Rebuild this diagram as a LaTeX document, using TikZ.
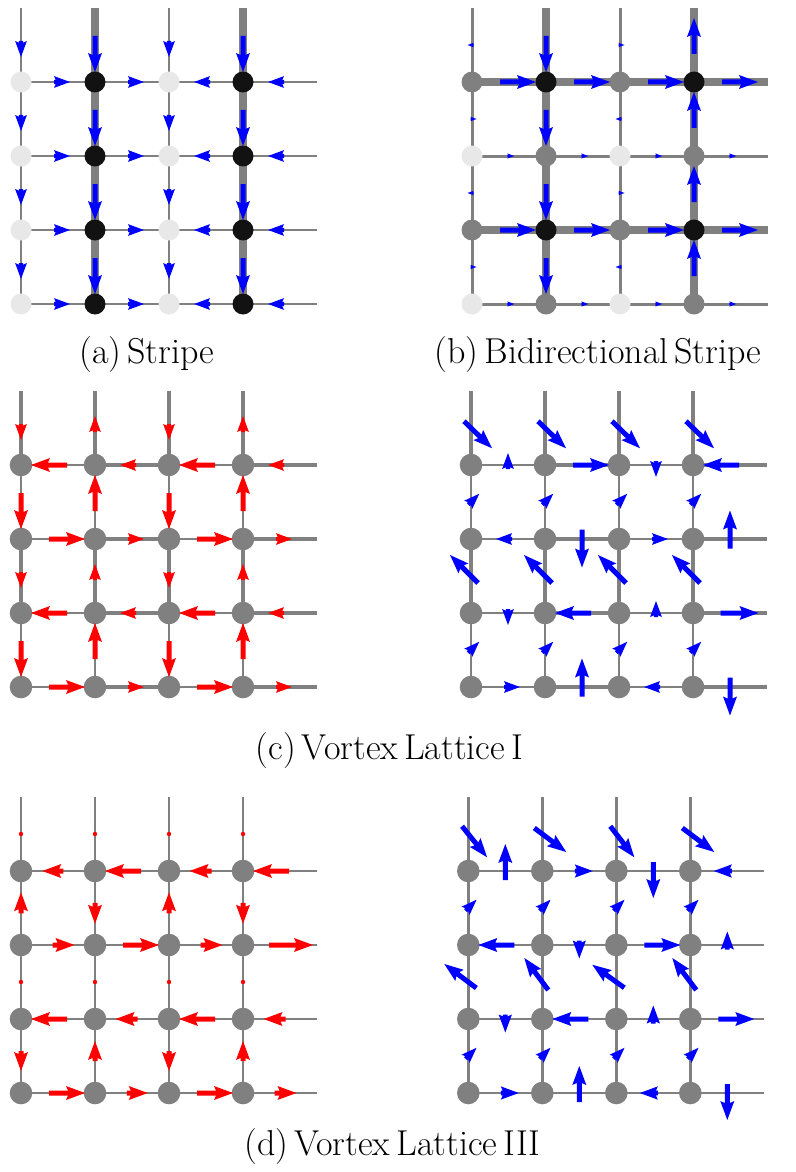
\documentclass[tikz,border=0pt]{standalone}
\usetikzlibrary{calc}
\definecolor{lgray}{HTML}{E8E8E8}
\definecolor{mgray}{HTML}{808080}
\definecolor{nblack}{HTML}{121212}
\definecolor{qblue}{HTML}{0000FF}
\definecolor{qred}{HTML}{FF0000}
\pgfdeclarelayer{bg}
\pgfsetlayers{bg,main}
% quiver arrow: mid x, mid y, vx, vy, colour (image px, y down)
\newcommand\qv[5]{%
  \pgfmathsetmacro\qL{veclen(#3,#4)}%
  \ifdim\qL pt<0.5pt
    \fill[#5] (#1,#2) circle[radius=1.1pt];%
  \else
    \pgfmathsetmacro\qs{min(1,\qL/19)}%
    \pgfmathsetmacro\qw{2.5*\qs}%
    \pgfmathsetmacro\qhw{7*\qs}%
    \pgfmathsetmacro\qa{\qL-17*\qs}%
    \pgfmathsetmacro\qb{\qL-19*\qs}%
    \pgfmathsetmacro\qang{atan2(-(#4),#3)}%
    \begin{scope}[shift={({#1-0.25*(#3)},{#2-0.25*(#4)})},rotate=\qang]
      \fill[#5] (0,-\qw) -- (\qa,-\qw) -- (\qb,-\qhw) -- (\qL,0) -- (\qb,\qhw) -- (\qa,\qw) -- (0,\qw) -- cycle;
    \end{scope}%
  \fi}
\newcommand\mksites[5]{%
  \foreach \f [count=\k from 0] in {#5} {%
    \pgfmathtruncatemacro\ci{mod(\k,4)+1}%
    \pgfmathtruncatemacro\rj{\k/4+1}%
    \node[site, minimum size=#4, fill=\f] (#1\ci\rj) at ({#2+(\ci-1)*74},{#3+(\rj-1)*74}) {};
  }%
  \foreach \c in {1,2,3,4} {\coordinate (#1t\c) at ({#2+(\c-1)*74},{#3-74});}%
  \foreach \r in {1,2,3,4} {\coordinate (#1r\r) at ({#2+296},{#3+(\r-1)*74});}%
}
\newcommand\mkedges[3]{%
  \foreach \w [count=\k from 0] in {#2} {%
    \pgfmathtruncatemacro\ci{mod(\k,4)+1}%
    \pgfmathtruncatemacro\cn{\ci+1}%
    \pgfmathtruncatemacro\rj{\k/4+1}%
    \ifnum\ci<4
      \draw[gline, line width=\w*0.5pt] (#1\ci\rj.center) -- (#1\cn\rj.center);
    \else
      \draw[gline, line width=\w*0.5pt] (#1\ci\rj.center) -- (#1r\rj);
    \fi
  }%
  \foreach \w [count=\k from 0] in {#3} {%
    \pgfmathtruncatemacro\ci{mod(\k,4)+1}%
    \pgfmathtruncatemacro\rj{\k/4+1}%
    \pgfmathtruncatemacro\rp{\rj-1}%
    \ifnum\rj>1
      \draw[gline, line width=\w*0.5pt] (#1\ci\rj.center) -- (#1\ci\rp.center);
    \else
      \draw[gline, line width=\w*0.5pt] (#1\ci\rj.center) -- (#1t\ci);
    \fi
  }%
}
\newcommand\harrows[4]{%
  \foreach \vx/\vy [count=\k from 0] in {#4} {%
    \pgfmathsetmacro\mx{#1+(mod(\k,4)+0.5)*74}%
    \pgfmathsetmacro\my{#2+floor(\k/4)*74}%
    \qv{\mx}{\my}{\vx}{\vy}{#3}%
  }}
\newcommand\varrows[4]{%
  \foreach \vx/\vy [count=\k from 0] in {#4} {%
    \pgfmathsetmacro\mx{#1+mod(\k,4)*74}%
    \pgfmathsetmacro\my{#2+(floor(\k/4)-0.5)*74}%
    \qv{\mx}{\my}{\vx}{\vy}{#3}%
  }}
\begin{document}
\begin{tikzpicture}[x=0.5pt,y=-0.5pt,
  site/.style={circle,inner sep=0pt,draw=none},
  gline/.style={draw=mgray,line cap=butt},
  captxt/.style={font=\fontsize{18}{21}\selectfont,anchor=base,inner sep=0pt}]
\useasboundingbox (0,0) rectangle (796,1172);
% ---------- (a) Stripe
\mksites{a}{21}{82}{10.5pt}{lgray,nblack,lgray,nblack,lgray,nblack,lgray,nblack,lgray,nblack,lgray,nblack,lgray,nblack,lgray,nblack}
\begin{pgfonlayer}{bg}
\mkedges{a}{2.5,2.5,2.5,2.5,2.5,2.5,2.5,2.5,2.5,2.5,2.5,2.5,2.5,2.5,2.5,2.5}{2,8,2,8,2,8,2,8,2,8,2,8,2,8,2,8}
\end{pgfonlayer}
\harrows{21}{82}{qblue}{16/0,16/0,-16/0,-16/0,16/0,16/0,-16/0,-16/0,16/0,16/0,-16/0,-16/0,16/0,16/0,-16/0,-16/0}
\varrows{21}{82}{qblue}{0/16,0/36,0/16,0/36,0/16,0/36,0/16,0/36,0/16,0/36,0/16,0/36,0/16,0/36,0/16,0/36}
% ---------- (b) Bidirectional stripe
\mksites{b}{472}{82}{10.5pt}{mgray,nblack,mgray,nblack,lgray,mgray,lgray,mgray,mgray,nblack,mgray,nblack,lgray,mgray,lgray,mgray}
\begin{pgfonlayer}{bg}
\mkedges{b}{8.5,8.5,8.5,8.5,3,3,3,3,8.5,8.5,8.5,8.5,3,3,3,3}{3,8.5,3,8.5,3,8.5,3,8.5,3,8.5,3,8.5,3,8.5,3,8.5}
\end{pgfonlayer}
\harrows{472}{82}{qblue}{36/0,36/0,36/0,36/0,7/0,7/0,7/0,7/0,36/0,36/0,36/0,36/0,7/0,7/0,7/0,7/0}
\varrows{472}{82}{qblue}{-6/0,0/36,6/0,0/-36,6/0,0/36,-6/0,0/-36,-6/0,0/36,6/0,0/-36,6/0,0/36,-6/0,0/-36}
% ---------- (c) Vortex lattice I, left
\mksites{c}{21}{465}{11.3pt}{mgray,mgray,mgray,mgray,mgray,mgray,mgray,mgray,mgray,mgray,mgray,mgray,mgray,mgray,mgray,mgray}
\begin{pgfonlayer}{bg}
\mkedges{c}{1.8,3.8,1.8,3.8,1.8,3.8,1.8,3.8,1.8,3.8,1.8,3.8,1.8,3.8,1.8,3.8}{3.8,3.8,3.8,3.8,1.8,1.8,1.8,1.8,3.8,3.8,3.8,3.8,1.8,1.8,1.8,1.8}
\end{pgfonlayer}
\harrows{21}{465}{qred}{-36/0,-16/0,-36/0,-16/0,36/0,16/0,36/0,16/0,-36/0,-16/0,-36/0,-16/0,36/0,16/0,36/0,16/0}
\varrows{21}{465}{qred}{0/16,0/-16,0/16,0/-16,0/36,0/-36,0/36,0/-36,0/16,0/-16,0/16,0/-16,0/36,0/-36,0/36,0/-36}
% ---------- (c) right
\mksites{e}{471}{465}{11.3pt}{mgray,mgray,mgray,mgray,mgray,mgray,mgray,mgray,mgray,mgray,mgray,mgray,mgray,mgray,mgray,mgray}
\begin{pgfonlayer}{bg}
\mkedges{e}{1.8,3.8,1.8,3.8,1.8,3.8,1.8,3.8,1.8,3.8,1.8,3.8,1.8,3.8,1.8,3.8}{3.8,3.8,3.8,3.8,1.8,1.8,1.8,1.8,3.8,3.8,3.8,3.8,1.8,1.8,1.8,1.8}
\end{pgfonlayer}
\harrows{471}{465}{qblue}{0/-16,36/0,0/16,-36/0,-16/0,0/38,16/0,0/-38,0/16,-36/0,0/-16,38/0,16/0,0/-38,-16/0,0/38}
\varrows{471}{465}{qblue}{28/27,28/27,28/27,28/27,11/-11,11/-11,11/-11,11/-11,-28/-28,-28/-28,-28/-28,-28/-28,11/-11,11/-11,11/-11,11/-11}
% ---------- (d) Vortex lattice III, left
\mksites{d}{21}{871}{11.3pt}{mgray,mgray,mgray,mgray,mgray,mgray,mgray,mgray,mgray,mgray,mgray,mgray,mgray,mgray,mgray,mgray}
\begin{pgfonlayer}{bg}
\mkedges{d}{2.7,2.7,2.7,2.7,2.7,2.7,2.7,2.7,2.7,2.7,2.7,2.7,2.7,2.7,2.7,2.7}{2.7,2.7,2.7,2.7,2.7,2.7,2.7,2.7,2.7,2.7,2.7,2.7,2.7,2.7,2.7,2.7}
\end{pgfonlayer}
\harrows{21}{871}{qred}{-21/0,-36/0,-22/0,-36/0,22/0,36/0,22/0,44/0,-36/0,-22/0,-36/0,-22/0,36/0,21/0,36/0,22/0}
\varrows{21}{871}{qred}{0/0,0/0,0/0,0/0,0/-21,0/21,0/-21,0/21,0/0,0/0,0/0,0/0,0/20,0/-20,0/20,0/-20}
% ---------- (d) right
\mksites{f}{468.3}{871}{11.3pt}{mgray,mgray,mgray,mgray,mgray,mgray,mgray,mgray,mgray,mgray,mgray,mgray,mgray,mgray,mgray,mgray}
\begin{pgfonlayer}{bg}
\mkedges{f}{2.7,2.7,2.7,2.7,2.7,2.7,2.7,2.7,2.7,2.7,2.7,2.7,2.7,2.7,2.7,2.7}{2.7,2.7,2.7,2.7,2.7,2.7,2.7,2.7,2.7,2.7,2.7,2.7,2.7,2.7,2.7,2.7}
\end{pgfonlayer}
\harrows{468.3}{871}{qblue}{0/-36,18/0,0/36,-18/0,-36/0,0/18,36/0,0/-18,0/18,-36/0,0/-18,36/0,18/0,0/-36,-18/0,0/36}
\varrows{468.3}{871}{qblue}{25/31,32/24,24/31,32/24,11/-11,11/-11,11/-11,11/-11,-32/-24,-24/-32,-32/-23,-24/-32,11/-11,11/-11,11/-11,11/-11}
% ---------- captions
\node[captxt] (capa) at (146.7,363) {(a)\,Stripe};
\node[captxt] (capb) at (598,363) {(b)\,Bidirectional\,Stripe};
\node[captxt] (capc) at (389.4,759) {(c)\,Vortex\,Lattice\,I};
\node[captxt] (capd) at (392.5,1155) {(d)\,Vortex\,Lattice\,III};
\end{tikzpicture}
\end{document}
